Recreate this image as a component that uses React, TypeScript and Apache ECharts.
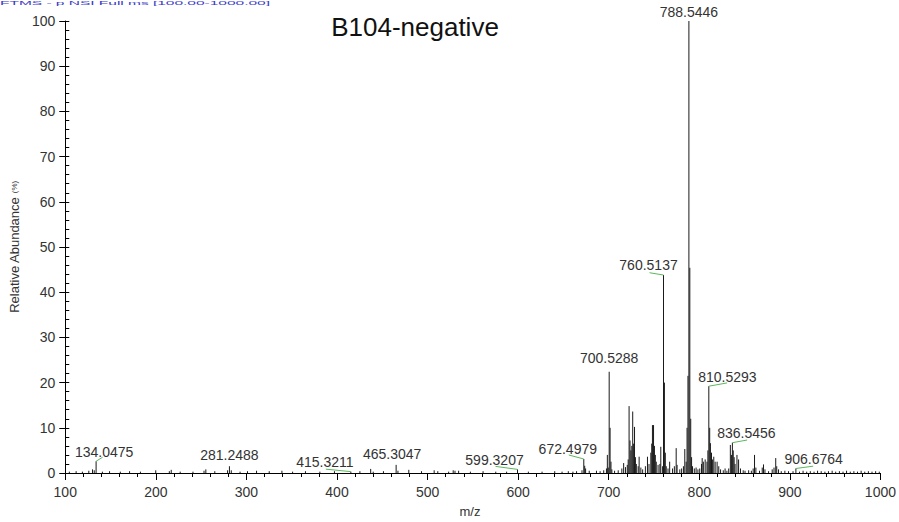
import React, { useEffect, useRef } from "react";
import * as echarts from "echarts";

// Spectrum peaks: m/z and relative abundance (%)
const peakMz: number[] = [
  104.5, 112.0, 118.9, 126.0, 130.1, 132.0, 134.0475, 141.0, 148.9, 160.8, 171.0, 183.0, 199.9, 214.9, 217.0,
  226.9, 241.0, 253.2, 255.2, 265.1, 279.2, 281.2488, 283.3, 293.0, 301.2, 311.2, 325.2, 339.2, 351.0, 365.2,
  381.1, 397.2, 415.3211, 425.3, 437.2, 440.0, 451.3, 465.3047, 467.3, 479.3, 493.3, 507.3, 511.3, 523.3, 528.3,
  530.3, 534.3, 547.3, 561.3, 575.3, 587.3, 599.3207, 611.3, 626.4, 640.4, 648.5, 655.4, 660.5, 664.5, 670.5,
  672.4979, 673.5, 674.5, 678.5, 686.5, 690.5, 694.5, 697.5, 698.5, 699.5, 700.5288, 701.53, 702.5, 703.5, 706.5,
  710.5, 714.5, 716.5, 718.5, 720.5, 721.5, 722.5, 723.5, 724.5, 725.5, 726.5, 727.5, 728.5, 729.5, 730.5,
  732.5, 733.6, 735.5, 737.5, 740.5, 742.8, 744.5, 746.5, 747.5, 748.3, 749.5, 750.5, 751.5, 752.5, 754.5,
  756.5, 757.5, 759.5, 760.5137, 761.52, 762.5, 763.5, 765.5, 767.3, 770.5, 772.5, 774.5, 775.5, 778.5, 780.5,
  782.5, 784.0, 785.5, 786.5, 787.5, 788.5446, 789.55, 790.55, 791.5, 792.5, 794.5, 796.5, 798.5, 800.5, 802.5,
  803.2, 804.5, 806.5, 808.5, 809.5, 810.5293, 811.5, 812.3, 813.5, 814.5, 816.0, 817.5, 819.7, 821.5, 823.5,
  826.5, 828.5, 830.5, 832.5, 834.3, 835.5, 836.5456, 837.5, 838.5, 839.5, 841.6, 843.4, 845.5, 848.5, 850.5,
  854.5, 857.5, 859.5, 861.0, 862.5, 866.5, 869.5, 870.9, 872.5, 876.5, 880.5, 882.5, 884.4, 885.5, 887.5,
  890.5, 894.5, 898.5, 903.5, 906.6764, 910.6, 914.6, 918.6, 922.6, 926.7, 930.6, 934.6, 938.7, 942.6, 946.7,
  950.6, 954.7, 958.7, 962.6, 966.7, 970.7, 974.7, 978.7, 982.7, 986.7, 990.7, 994.7, 998.7,
];
const peakIntensity: number[] = [
  0.3, 0.4, 0.3, 0.5, 0.8, 0.6, 2.6, 0.3, 0.4, 0.3, 0.4, 0.3, 0.6, 0.4, 0.7,
  0.3, 0.3, 0.5, 0.8, 0.4, 0.6, 1.5, 0.6, 0.3, 0.4, 0.5, 0.4, 0.5, 0.3, 0.4,
  0.3, 0.4, 0.3, 0.4, 0.9, 0.3, 0.4, 1.8, 0.5, 0.7, 0.4, 0.6, 0.4, 0.3, 0.6,
  0.5, 0.5, 0.3, 0.4, 0.3, 0.3, 0.8, 0.3, 0.3, 0.4, 0.3, 0.4, 0.3, 0.4, 0.6,
  3.1, 1.6, 1.0, 0.5, 0.5, 0.4, 0.6, 1.0, 4.0, 1.2, 22.4, 10.0, 2.5, 0.8, 0.5,
  0.6, 1.0, 2.2, 1.3, 1.8, 3.0, 14.8, 7.2, 5.0, 6.0, 13.6, 6.5, 10.2, 3.5, 2.0,
  1.5, 3.6, 1.2, 0.8, 1.5, 3.6, 2.0, 4.5, 6.5, 10.6, 10.6, 6.0, 4.0, 2.5, 1.8,
  2.0, 5.8, 1.5, 43.8, 20.0, 4.5, 1.5, 1.0, 2.5, 1.0, 1.5, 5.5, 1.8, 0.8, 1.0,
  1.5, 5.3, 2.5, 10.0, 21.5, 100, 45.4, 12.0, 3.5, 1.5, 1.0, 1.2, 0.8, 1.0, 2.0,
  3.3, 2.5, 3.0, 2.5, 5.0, 19.2, 10.0, 6.6, 4.5, 3.0, 3.6, 2.5, 2.5, 1.5, 0.8,
  0.6, 1.0, 0.5, 1.0, 6.2, 4.0, 6.7, 5.0, 3.5, 2.0, 4.0, 3.0, 1.0, 0.6, 0.5,
  0.6, 0.5, 1.0, 4.0, 1.2, 0.5, 1.2, 1.9, 0.8, 0.4, 0.8, 1.2, 3.3, 1.5, 0.8,
  0.4, 0.5, 0.4, 0.4, 1.0, 0.3, 0.5, 0.3, 0.4, 0.3, 0.5, 0.4, 0.3, 0.4, 0.5,
  0.3, 0.4, 0.3, 0.5, 0.3, 0.4, 0.3, 0.5, 0.3, 0.4, 0.3, 0.4, 0.3,
];

// Annotated peaks
const labelMz: number[] = [134.0475, 281.2488, 415.3211, 465.3047, 599.3207, 672.4979, 700.5288, 760.5137, 788.5446, 810.5293, 836.5456, 906.6764];
const labelText: string[] = ["134.0475", "281.2488", "415.3211", "465.3047", "599.3207", "672.4979", "700.5288", "760.5137", "788.5446", "810.5293", "836.5456", "906.6764"];

// Label placement (pixel offsets from the peak top): text centre and leader-line end
const labelLayout: { dx: number; dy: number; leader: [number, number] | null }[] = [
  { dx: 8, dy: -9, leader: [6.5, -4] },
  { dx: 0, dy: -11, leader: null },
  { dx: -26, dy: -9.5, leader: [-25, -2.5] },
  { dx: -4, dy: -11, leader: null },
  { dx: -23, dy: -9, leader: [-22, -3] },
  { dx: -16, dy: -9.5, leader: [-15, -4] },
  { dx: 0, dy: -13.5, leader: null },
  { dx: -15, dy: -10, leader: [-14, -2.3] },
  { dx: 0, dy: -9.5, leader: null },
  { dx: 18.6, dy: -9.5, leader: [18.3, -3.3] },
  { dx: 14, dy: -9.5, leader: [14.7, -2.7] },
  { dx: 17.7, dy: -9, leader: [17.3, -2.3] },
];

const FONT = "'Liberation Sans', Arial, Helvetica, sans-serif";

export default function App() {
  const ref = useRef<HTMLDivElement>(null);

  useEffect(() => {
    if (!ref.current) return;
    const chart = echarts.init(ref.current, undefined, { renderer: "svg" });

    const stickData = peakMz.map((m, i) => [m, peakIntensity[i]]);
    const labelData = labelMz.map((m, i) => {
      let best = 0;
      let bd = Infinity;
      peakMz.forEach((pm, j) => {
        const d = Math.abs(pm - m);
        if (d < bd) { bd = d; best = j; }
      });
      return [m, peakIntensity[best], i];
    });

    chart.setOption({
      animation: false,
      backgroundColor: "#ffffff",
      textStyle: { fontFamily: FONT },
      grid: { left: 61, right: 18, top: 21, bottom: 49, containLabel: false },
      xAxis: {
        type: "value",
        min: 100,
        max: 1000,
        interval: 100,
        axisLine: { lineStyle: { color: "#000", width: 1 } },
        axisTick: { show: true, inside: false, length: 7, lineStyle: { color: "#000" } },
        minorTick: { show: true, splitNumber: 5, length: 4, lineStyle: { color: "#000" } },
        axisLabel: { fontSize: 14, color: "#333", margin: 12, fontFamily: FONT, formatter: (v: number) => String(v) },
        splitLine: { show: false },
      },
      yAxis: [
        {
          type: "value",
          min: 0,
          max: 100,
          interval: 10,
          axisLine: { show: true, lineStyle: { color: "#000", width: 1 } },
          axisTick: { show: true, inside: false, length: 6, lineStyle: { color: "#000" } },
          axisLabel: { fontSize: 14, color: "#333", margin: 10, fontFamily: FONT },
          splitLine: { show: false },
          name: "Relative Abundance {s|(%)}",
          nameLocation: "middle",
          nameGap: 44,
          nameTextStyle: { fontSize: 13, color: "#333", fontFamily: FONT, rich: { s: { fontSize: 8, color: "#333" } } },
        },
        {
          type: "value",
          min: 0,
          max: 100,
          interval: 2,
          position: "left",
          axisLine: { show: false },
          axisTick: { show: true, inside: true, length: 4, lineStyle: { color: "#000" } },
          axisLabel: { show: false },
          splitLine: { show: false },
        },
      ],
      graphic: [
        {
          type: "text",
          x: 0,
          y: 0,
          scaleY: 0.36,
          style: { text: "FTMS - p NSI Full ms [100.00-1000.00]", fill: "#3c3cc8", fontSize: 15.5, fontFamily: FONT, align: "left", verticalAlign: "top" },
        },
        {
          type: "text",
          x: 415,
          y: 27,
          style: { text: "B104-negative", fill: "#111", fontSize: 26, fontFamily: FONT, align: "center", verticalAlign: "middle" },
        },
        {
          type: "text",
          x: 470,
          y: 511,
          style: { text: "m/z", fill: "#333", fontSize: 13, fontFamily: FONT, align: "center", verticalAlign: "middle" },
        },
      ],
      series: [
        {
          type: "custom",
          name: "spectrum",
          xAxisIndex: 0,
          yAxisIndex: 0,
          clip: true,
          data: stickData,
          encode: { x: 0, y: 1 },
          renderItem: (_params: any, api: any) => {
            const x = api.value(0);
            const y = api.value(1);
            const top = api.coord([x, y]);
            const base = api.coord([x, 0]);
            return {
              type: "line",
              shape: { x1: top[0], y1: top[1], x2: base[0], y2: base[1] },
              style: { stroke: "#1a1a1a", lineWidth: 1 },
            };
          },
        },
        {
          type: "custom",
          name: "labels",
          xAxisIndex: 0,
          yAxisIndex: 0,
          data: labelData,
          encode: { x: 0, y: 1 },
          z: 5,
          renderItem: (_params: any, api: any) => {
            const x = api.value(0);
            const y = api.value(1);
            const idx = api.value(2);
            const lay = labelLayout[idx];
            const top = api.coord([x, y]);
            const children: any[] = [
              {
                type: "text",
                x: top[0] + lay.dx,
                y: top[1] + lay.dy,
                style: { text: labelText[idx], fill: "#333", fontSize: 14, fontFamily: FONT, align: "center", verticalAlign: "middle" },
              },
            ];
            if (lay.leader) {
              children.push({
                type: "line",
                shape: { x1: top[0], y1: top[1], x2: top[0] + lay.leader[0], y2: top[1] + lay.leader[1] },
                style: { stroke: "#5cb85c", lineWidth: 1 },
              });
            }
            return { type: "group", children };
          },
        },
      ],
    });

    return () => chart.dispose();
  }, []);

  return <div ref={ref} style={{ position: "fixed", left: 0, top: 0, width: 899, height: 522 }} />;
}
